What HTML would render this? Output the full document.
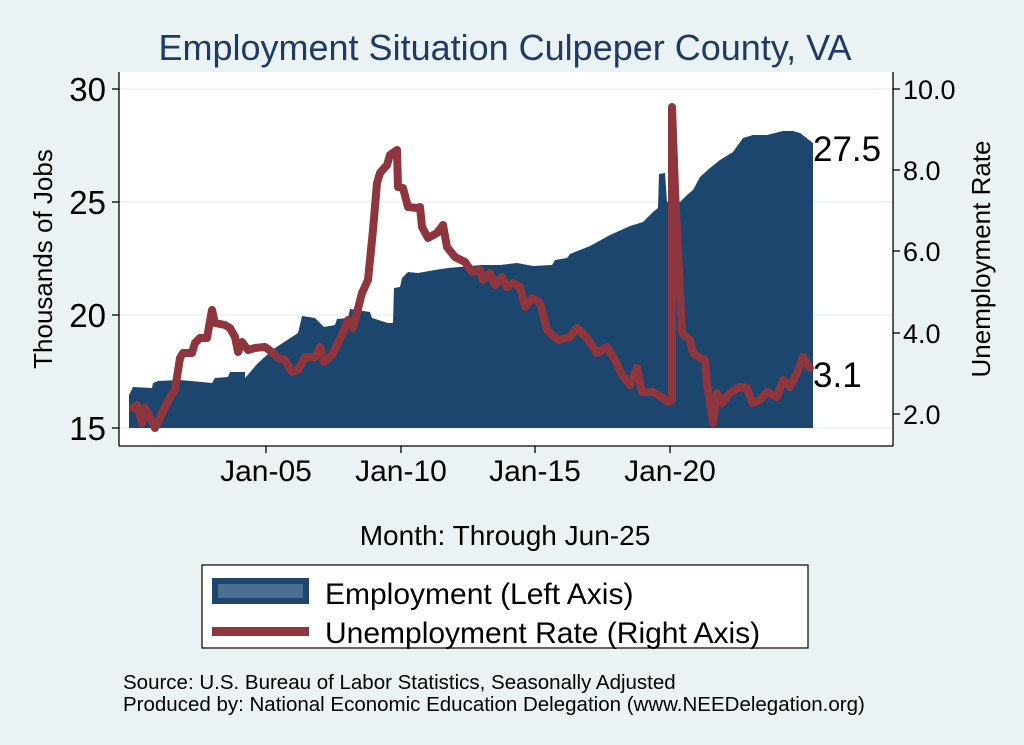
<!DOCTYPE html>
<html><head><meta charset="utf-8"><style>
body{margin:0;background:#eaf2f3;}
svg{display:block;font-family:"Liberation Sans",Arial,sans-serif;}
</style></head><body>
<svg width="1024" height="745" viewBox="0 0 1024 745">
<rect width="1024" height="745" fill="#eaf2f3"/>
<text x="505" y="60" font-size="36" fill="#1f3a63" text-anchor="middle">Employment Situation Culpeper  County, VA</text>
<rect x="119" y="72" width="774" height="374" fill="#fff"/>
<g stroke="#eaf2f3" stroke-width="1.5">
<line x1="119" y1="89" x2="893" y2="89"/><line x1="119" y1="202" x2="893" y2="202"/>
<line x1="119" y1="315" x2="893" y2="315"/><line x1="119" y1="428" x2="893" y2="428"/>
</g>
<polygon fill="#1c466e" points="129,428 129,395 133,387 152,388 153,383 158,381 180,380 191,381 212,383 215,378 228,377 230,372 245,372 245,378 258,363 275,348 298,333 302,316 315,318 324,327 335,325 337,319 348,318 350,309 370,312 372,318 388,323 393,323 394,288 400,287 402,278 408,272 418,273 435,270 448,268 482,265 500,265 517,263 533,266 552,265 555,260 567,258 570,254 590,246 610,235 630,226 643,222 653,212 658,208 659,174 665,173 667,202 680,202 687,195 693,190 700,177 710,168 720,160 733,152 743,138 753,135 767,135 783,131 793,131 800,133 813,143 813,428"/>
<polyline fill="none" stroke="#8f353d" stroke-width="8" stroke-linejoin="round" stroke-linecap="round" points="133,408 137,405 142,423 145,408 148,413 155,428 170,397 175,390 180,358 183,353 192,353 195,343 200,338 207,338 212,310 215,323 225,325 230,328 235,337 238,352 242,342 248,350 255,348 265,347 272,352 278,358 285,360 292,372 298,370 305,357 315,357 320,347 324,362 332,355 338,343 345,328 348,320 353,328 362,293 368,280 373,230 377,183 380,173 387,165 390,155 397,150 398,187 403,188 408,207 417,208 420,207 422,227 428,238 437,233 443,225 447,247 455,257 465,262 472,272 480,270 483,280 490,273 495,285 502,277 507,287 513,283 520,287 525,307 532,298 540,303 547,330 558,340 570,337 577,328 587,338 597,353 607,347 615,360 622,375 630,385 637,368 642,392 653,392 663,398 668,402 672,400 672,107 675,190 680,293 682,333 690,340 693,353 700,358 705,360 707,383 713,423 717,393 722,403 730,393 740,387 747,388 752,403 760,400 767,392 777,397 783,380 790,387 797,373 803,357 810,368"/>
<g stroke="#000" stroke-width="1.3" fill="none">
<line x1="119" y1="72" x2="119" y2="446"/><line x1="119" y1="446" x2="893" y2="446"/><line x1="893" y1="72" x2="893" y2="446"/>
<line x1="112" y1="89" x2="119" y2="89"/><line x1="112" y1="202" x2="119" y2="202"/><line x1="112" y1="315" x2="119" y2="315"/><line x1="112" y1="428" x2="119" y2="428"/>
<line x1="893" y1="89" x2="900" y2="89"/><line x1="893" y1="170" x2="900" y2="170"/><line x1="893" y1="251" x2="900" y2="251"/><line x1="893" y1="333" x2="900" y2="333"/><line x1="893" y1="414" x2="900" y2="414"/>
<line x1="266" y1="446" x2="266" y2="453"/><line x1="401" y1="446" x2="401" y2="453"/><line x1="535" y1="446" x2="535" y2="453"/><line x1="670" y1="446" x2="670" y2="453"/>
</g>
<g font-size="33" text-anchor="end" fill="#000">
<text x="106" y="101">30</text><text x="106" y="214">25</text><text x="106" y="327">20</text><text x="106" y="440">15</text>
</g>
<g font-size="27" fill="#000">
<text x="903" y="99">10.0</text><text x="903" y="180">8.0</text><text x="903" y="261">6.0</text><text x="903" y="343">4.0</text><text x="903" y="424">2.0</text>
</g>
<g font-size="30" text-anchor="middle" fill="#000">
<text x="266" y="481">Jan-05</text><text x="401" y="481">Jan-10</text><text x="535" y="481">Jan-15</text><text x="670" y="481">Jan-20</text>
</g>
<text x="505" y="545" font-size="28" text-anchor="middle">Month: Through Jun-25</text>
<text transform="translate(52,259) rotate(-90)" font-size="26" text-anchor="middle">Thousands of Jobs</text>
<text transform="translate(990,259) rotate(-90)" font-size="26" text-anchor="middle">Unemployment Rate</text>
<text x="813" y="161" font-size="35">27.5</text>
<text x="813" y="387" font-size="35">3.1</text>
<rect x="202" y="565" width="606" height="83" fill="#fff" stroke="#000" stroke-width="1.2"/>
<rect x="212" y="578" width="97" height="26" fill="#1c466e"/>
<rect x="218" y="584" width="85" height="14" fill="#4a6f92"/>
<rect x="212" y="627" width="97" height="9" fill="#8f353d"/>
<text x="325" y="604" font-size="30">Employment (Left Axis)</text>
<text x="325" y="643" font-size="30">Unemployment Rate (Right Axis)</text>
<text x="123" y="689" font-size="20.5">Source: U.S. Bureau of Labor Statistics, Seasonally Adjusted</text>
<text x="123" y="711" font-size="20.5">Produced by: National Economic Education Delegation (www.NEEDelegation.org)</text>
</svg>
</body></html>
